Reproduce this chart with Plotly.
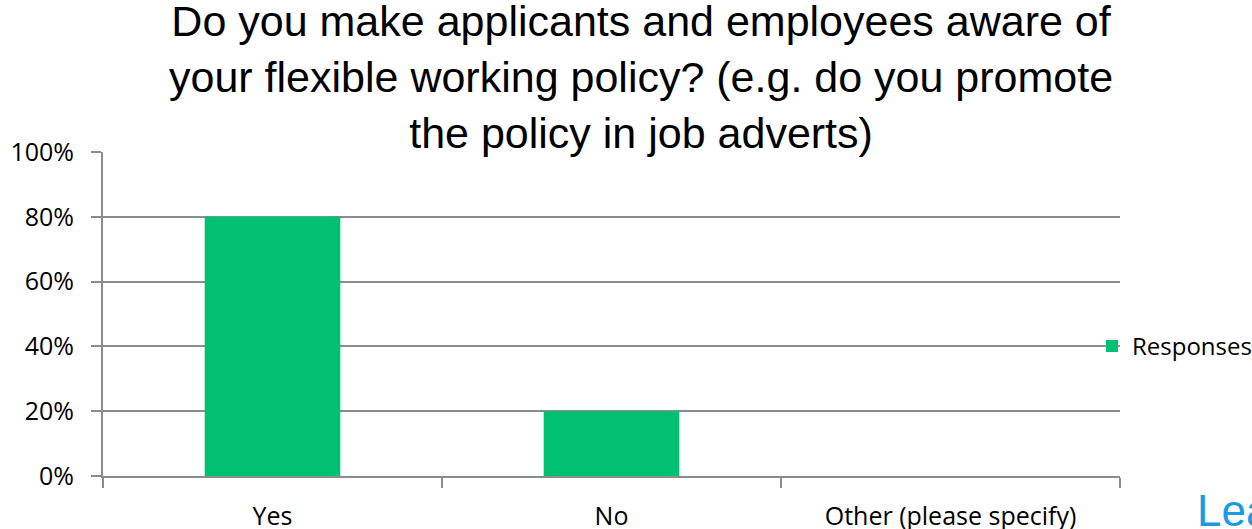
import plotly.graph_objects as go

categories = ["Yes", "No", "Other (please specify)"]
responses = [0.80, 0.20, 0.0]
y_ticks = [0, 0.2, 0.4, 0.6, 0.8, 1.0]
y_tick_labels = ["0%", "20%", "40%", "60%", "80%", "100%"]
series_name = "Responses"
title_text = ("Do you make applicants and employees aware of<br>"
              "your flexible working policy? (e.g. do you promote<br>"
              "the policy in job adverts)")

W, H = 1252, 529
L, R, T, B = 103, 132, 152, 53
PW, PH = W - L - R, H - T - B

fig = go.Figure()
fig.add_trace(go.Bar(
    x=categories, y=responses, name=series_name,
    marker=dict(color="#00C071", line=dict(width=0)),
    showlegend=True,
))

fig.update_layout(
    width=W, height=H,
    margin=dict(l=L, r=R, t=T, b=B, pad=0, autoexpand=False),
    paper_bgcolor="white", plot_bgcolor="white",
    bargap=0.6,
    font=dict(family="Open Sans", size=25, color="#000000"),
    legend=dict(
        x=(1092 - L) / PW, xref="paper", xanchor="left",
        y=0.4, yanchor="middle",
        font=dict(family="Open Sans", size=24, color="#000000"),
        bgcolor="rgba(0,0,0,0)",
        itemwidth=30,
    ),
    xaxis=dict(
        showgrid=False,
        showline=True, linecolor="#8C8C8C", linewidth=2,
        ticks="outside", ticklen=10, tickcolor="#8C8C8C", tickwidth=2,
        tickson="boundaries",
        ticklabelstandoff=17,
        tickfont=dict(family="Open Sans", size=25, color="#000000"),
        fixedrange=True,
    ),
    yaxis=dict(
        range=[0, 1.0],
        tickvals=y_ticks, ticktext=y_tick_labels,
        showgrid=True, gridcolor="#8C8C8C", gridwidth=2,
        showline=True, linecolor="#8C8C8C", linewidth=2,
        ticks="outside", ticklen=10, tickcolor="#8C8C8C", tickwidth=2,
        ticklabelstandoff=12,
        tickfont=dict(family="Open Sans", size=25, color="#000000"),
        zeroline=False,
        fixedrange=True,
    ),
)

fig.add_annotation(
    text=title_text, xref="paper", yref="paper",
    x=(641 - L) / PW, y=1 + (T - 77) / PH,
    xanchor="center", yanchor="middle", showarrow=False,
    font=dict(family="Liberation Sans", size=43, color="#000000"),
)

fig.add_annotation(
    text="Lea", xref="paper", yref="paper",
    x=(1195 - L) / PW, y=-(510 - (H - B)) / PH,
    xanchor="left", yanchor="middle", showarrow=False,
    font=dict(family="Liberation Sans", size=44, color="#1A9BE0"),
)

fig.write_html("out.html")
